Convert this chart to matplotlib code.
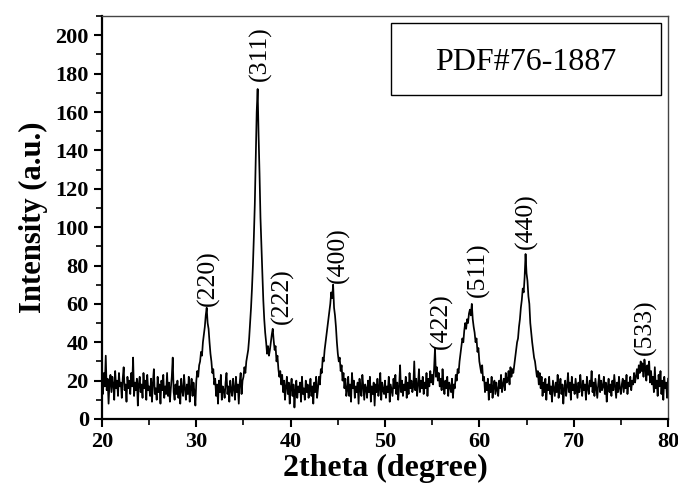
import numpy as np
import matplotlib
matplotlib.use("Agg")
import matplotlib.pyplot as plt
from matplotlib.patches import Rectangle
from matplotlib.ticker import MultipleLocator

plt.rcParams["font.family"] = ["Liberation Serif", "DejaVu Serif"]

# XRD scan, 20-80 deg, 0.1 deg step
theta_start = 20.0
theta_step = 0.1
intensity = [
    20, 13, 24, 17, 33, 15, 21, 8, 19, 23,
    14, 22, 18, 10, 25, 16, 20, 12, 24, 17,
    19, 11, 21, 27, 15, 18, 9, 22, 16, 20,
    13, 24, 17, 32, 12, 19, 15, 21, 7, 18,
    22, 14, 18, 11, 24, 16, 20, 10, 23, 15,
    17, 12, 21, 9, 19, 26, 13, 16, 10, 22,
    14, 18, 8, 20, 15, 23, 11, 17, 13, 24,
    12, 19, 9, 16, 22, 32, 14, 10, 18, 13,
    20, 11, 17, 8, 21, 15, 12, 23, 16, 10,
    18, 13, 22, 9, 16, 21, 12, 19, 14, 7,
    20, 25, 22, 28, 30, 35, 33, 40, 44, 48,   # 30
    54, 58, 50, 47, 40, 34, 30, 24, 26, 18,
    21, 12, 18, 8, 20, 14, 23, 10, 17, 15,
    11, 19, 24, 13, 17, 9, 20, 15, 12, 21,
    16, 10, 22, 14, 18, 8, 19, 24, 13, 20,
    22, 27, 24, 30, 33, 36, 42, 50, 58, 68,
    80, 95, 112, 135, 160, 172, 148, 128, 105, 90,
    76, 62, 52, 45, 40, 34, 38, 33, 36, 40,
    44, 47, 41, 36, 38, 30, 33, 26, 22, 25,
    18, 23, 14, 20, 10, 17, 22, 13, 19, 8,
    16, 21, 12, 18, 6, 15, 20, 11, 17, 14,    # 40
    19, 9, 22, 13, 16, 10, 20, 14, 18, 11,
    15, 21, 12, 17, 8, 19, 14, 22, 11, 16,
    22, 18, 26, 24, 32, 30, 36, 40, 44, 48,
    52, 56, 60, 66, 63, 70, 58, 54, 48, 40,
    34, 30, 32, 25, 28, 20, 24, 16, 21, 12,
    15, 22, 12, 18, 9, 24, 16, 20, 11, 17,
    14, 19, 8, 21, 15, 12, 23, 17, 10, 18,
    16, 11, 20, 14, 22, 9, 17, 13, 19, 7,
    18, 14, 21, 12, 16, 24, 10, 19, 15, 13,
    20, 11, 17, 14, 22, 9, 18, 15, 12, 21,    # 50
    16, 23, 13, 19, 10, 17, 28, 14, 20, 12,
    18, 15, 22, 11, 19, 13, 24, 16, 20, 14,
    17, 30, 15, 21, 12, 18, 26, 14, 20, 16,
    22, 13, 19, 16, 24, 12, 21, 17, 25, 19,
    23, 18, 26, 37, 22, 27, 20, 24, 17, 21,
    15, 26, 18, 13, 20, 16, 22, 12, 19, 17,
    14, 21, 11, 18, 16, 23, 20, 26, 24, 30,
    34, 38, 42, 40, 46, 50, 47, 52, 50, 55,
    57, 54, 60, 52, 48, 45, 40, 42, 35, 37,
    30, 27, 24, 28, 20, 22, 14, 19, 15, 21,   # 60
    10, 18, 14, 22, 11, 17, 20, 13, 19, 15,
    12, 20, 16, 23, 14, 18, 21, 15, 24, 19,
    20, 25, 18, 27, 22, 26, 24, 28, 32, 36,
    40, 42, 48, 52, 58, 62, 68, 66, 74, 86,
    76, 72, 64, 60, 50, 45, 40, 36, 32, 30,
    26, 22, 25, 18, 24, 16, 22, 12, 19, 14,
    21, 10, 18, 15, 22, 13, 17, 9, 20, 16,
    12, 19, 14, 23, 11, 17, 21, 13, 18, 8,
    16, 20, 12, 17, 24, 14, 19, 10, 22, 15,
    18, 13, 21, 16, 11, 19, 14, 23, 17, 12,   # 70
    20, 15, 18, 10, 22, 16, 13, 20, 17, 25,
    14, 19, 12, 21, 16, 11, 18, 23, 14, 20,
    15, 17, 22, 13, 19, 9, 16, 21, 14, 18,
    12, 20, 15, 23, 17, 11, 19, 14, 22, 16,
    13, 18, 21, 14, 20, 16, 23, 13, 19, 17,
    22, 15, 20, 18, 24, 19, 22, 26, 21, 28,
    24, 30, 25, 29, 22, 31, 26, 20, 28, 23,
    30, 19, 25, 18, 22, 14, 27, 16, 20, 12,
    23, 17, 25, 13, 20, 10, 22, 16, 19, 11,
    21,
]

# peak labels: (hkl), 2theta and intensity of label centre
peak_labels = ["(220)", "(311)", "(222)", "(400)", "(422)", "(511)", "(440)", "(533)"]
peak_theta = [31.25, 36.75, 39.1, 45.0, 56.0, 59.9, 65.0, 77.6]
peak_label_y = [73.5, 190.5, 64, 85.5, 51, 78, 103, 48]

card_text = "PDF#76-1887"

two_theta = theta_start + theta_step * np.arange(len(intensity))

fig = plt.figure(figsize=(6.78, 4.88), dpi=100)
ax = fig.add_axes([0.1504, 0.1414, 0.8349, 0.8256])

ax.plot(two_theta, intensity, color="black", lw=1.25)

for lab, x, y in zip(peak_labels, peak_theta, peak_label_y):
    ax.text(x, y, lab, rotation=90, ha="center", va="center", fontsize=18.5)

ax.add_patch(Rectangle((0.5106, 0.804), 0.477, 0.1786, transform=ax.transAxes,
                       fill=False, edgecolor="black", lw=1.0))
ax.text(0.749, 0.886, card_text, transform=ax.transAxes, ha="center", va="center",
        fontsize=23)

ax.set_xlim(20, 80)
ax.set_ylim(0, 210)
ax.xaxis.set_major_locator(MultipleLocator(10))
ax.xaxis.set_minor_locator(MultipleLocator(5))
ax.yaxis.set_major_locator(MultipleLocator(20))
ax.yaxis.set_minor_locator(MultipleLocator(10))
ax.set_yticks(np.arange(0, 201, 20))

ax.tick_params(which="major", direction="out", length=6, width=1.5, labelsize=16)
ax.tick_params(which="minor", direction="out", length=4, width=1.2)
for lab in ax.get_xticklabels() + ax.get_yticklabels():
    lab.set_fontweight("bold")

ax.set_xlabel("2theta (degree)", fontsize=23, fontweight="bold", labelpad=1)
ax.set_ylabel("Intensity (a.u.)", fontsize=22, fontweight="bold", labelpad=5)

for side in ["left", "bottom"]:
    ax.spines[side].set_linewidth(1.6)
for side in ["top", "right"]:
    ax.spines[side].set_linewidth(1.0)
    ax.spines[side].set_color("#444444")

fig.savefig("out.png", dpi=100)
